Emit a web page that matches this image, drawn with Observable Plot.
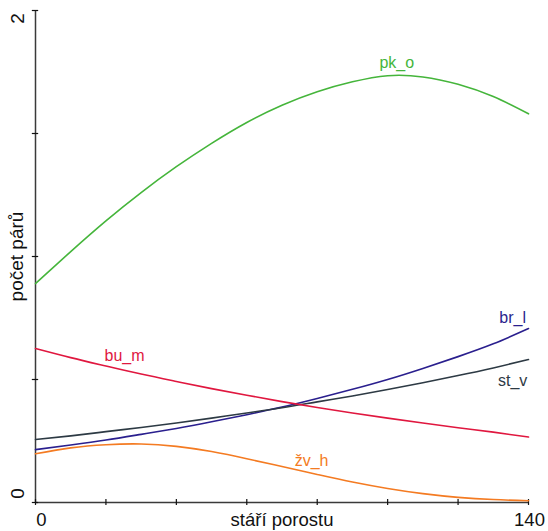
<!DOCTYPE html>
<html><head><meta charset="utf-8">
<script src="https://cdn.jsdelivr.net/npm/d3@7"></script>
<script src="https://cdn.jsdelivr.net/npm/@observablehq/plot@0.6"></script>
<style>body{margin:0;background:#fff}</style>
</head><body><div id="chart"></div>
<script>
// stáří porostu (years)
const age = [0,10,20,30,40,50,60,70,80,90,100,110,120,130,140];
// počet párů per species
const pk_o = [0.89,1.02,1.145,1.26,1.365,1.46,1.545,1.615,1.67,1.71,1.735,1.73,1.70,1.65,1.58];
const br_l = [0.215,0.234,0.254,0.277,0.301,0.328,0.357,0.388,0.423,0.46,0.50,0.545,0.593,0.645,0.707];
const st_v = [0.256,0.271,0.288,0.305,0.323,0.343,0.364,0.385,0.409,0.433,0.459,0.487,0.516,0.547,0.581];
const bu_m = [0.626,0.589,0.555,0.522,0.492,0.463,0.436,0.41,0.386,0.364,0.343,0.323,0.304,0.286,0.266];
const zv_h = [0.198,0.222,0.235,0.238,0.228,0.207,0.178,0.146,0.114,0.083,0.057,0.036,0.021,0.012,0.007];

const names = ["pk_o","br_l","st_v","bu_m","žv_h"];
const colors = ["#45b53b","#2a1f8e","#2d3a44","#e0173f","#f47b22"];
const valuesList = [pk_o, br_l, st_v, bu_m, zv_h];

const yTicks = [0,0.5,1,1.5,2];
const xTicks = [0,20,40,60,80,100,120,140];

// label anchor spots (data coords)
const labelX = [102.6,135.5,135.5,25.3,78.4];
const labelY = [1.789,0.752,0.496,0.598,0.171];

const rows = names.flatMap((n, k) => age.map((a, i) => ({name: n, x: a, y: valuesList[k][i]})));
const labels = names.map((n, k) => ({name: n, x: labelX[k], y: labelY[k]}));

const axisColor = "#3a3a3a";
const font = "'Liberation Sans', Arial, Helvetica, sans-serif";

const chart = Plot.plot({
  width: 548, height: 531,
  marginLeft: 35, marginRight: 20, marginTop: 10, marginBottom: 29,
  x: {domain: [0, 140], axis: null},
  y: {domain: [0, 2], axis: null},
  color: {domain: names, range: colors},
  style: {fontFamily: font, background: "#fff"},
  marks: [
    Plot.ruleX([0], {y1: 0, y2: 2, stroke: axisColor, strokeWidth: 1.5}),
    Plot.ruleY([0], {x1: 0, x2: 140, stroke: axisColor, strokeWidth: 1.5}),
    Plot.ruleY(yTicks, {y: d => d, x1: -0.9, x2: 0.9, stroke: "#111", strokeWidth: 1.2}),
    Plot.ruleX(xTicks, {x: d => d, y1: -0.012, y2: 0.012, stroke: "#111", strokeWidth: 1.2}),
    Plot.text([2], {x: 0, y: d => d, text: d => String(d), rotate: -90, dx: -18, dy: 8, fontSize: 19, fill: "#111"}),
    Plot.text([0], {x: 0, y: d => d, text: d => String(d), rotate: -90, dx: -18, dy: -9, fontSize: 19, fill: "#111"}),
    Plot.text([0], {x: d => d, y: 0, text: d => String(d), dx: 6, dy: 18, fontSize: 18.5, fill: "#111"}),
    Plot.text([140], {x: d => d, y: 0, text: d => String(d), dx: 1, dy: 18, fontSize: 18.5, fill: "#111"}),
    Plot.text(["stáří porostu"], {frameAnchor: "bottom", textAnchor: "middle", lineAnchor: "middle", text: d => d, dy: 18, fontSize: 18.5, fill: "#111"}),
    Plot.text(["počet párů"], {frameAnchor: "left", textAnchor: "middle", lineAnchor: "middle", text: d => d, rotate: -90, dx: -19, fontSize: 19, fill: "#111"}),
    Plot.line(rows, {x: "x", y: "y", z: "name", stroke: "name", strokeWidth: 1.6, curve: "natural"}),
    Plot.text(labels, {x: "x", y: "y", text: "name", fill: "name", fontSize: 16})
  ]
});
document.getElementById("chart").appendChild(chart);
</script>
</body></html>
